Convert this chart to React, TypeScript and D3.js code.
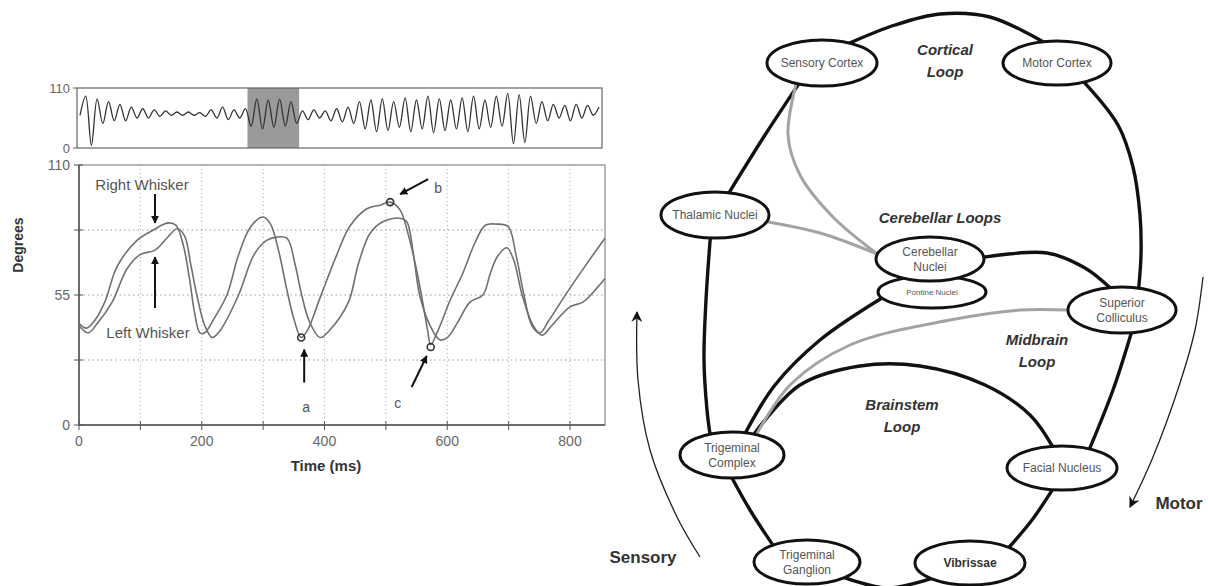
import React from 'react';
import * as d3 from 'd3';

// whisker angle in degrees over time (ms)
const rightWhisker: [number, number][] = [
  [0, 43], [12, 41], [25, 44], [42, 52], [62, 67], [94, 78], [121, 82.5], [145, 85.5], [158, 84.5],
  [170, 76], [180, 62], [188, 48], [197, 39], [205, 39], [220, 45], [241, 55], [260, 72], [280, 84],
  [300, 88], [312, 85], [325, 74], [338, 58], [350, 45], [362, 37], [372, 40], [393, 54], [420, 72],
  [441, 84], [469, 91.5], [490, 93], [507, 94.3], [523, 91], [535, 82], [548, 68], [560, 52], [568, 40],
  [573, 34], [585, 40], [605, 53], [625, 64], [645, 77], [662, 84.5], [680, 85], [699, 84], [712, 72],
  [725, 55], [738, 42], [751, 39], [765, 44], [795, 56], [828, 68.5], [857, 79],
];
const leftWhisker: [number, number][] = [
  [0, 42], [15, 39], [30, 43], [54, 52], [78, 66], [99, 72], [124, 74], [143, 79], [160, 83],
  [172, 80], [182, 68], [192, 55], [205, 42], [217, 37], [230, 40], [260, 55], [285, 72], [305, 78],
  [322, 79.5], [339, 79], [352, 68], [362, 56], [375, 44], [393, 37], [408, 40], [439, 52], [455, 68],
  [474, 81], [495, 86], [523, 87.5], [534, 86], [545, 72], [555, 55], [572, 42], [588, 36], [600, 37],
  [616, 43], [637, 52], [658, 55], [670, 64], [681, 71], [697, 75], [708, 70], [722, 55], [740, 42],
  [755, 38], [770, 42], [800, 50], [821, 52], [844, 58], [857, 62],
];

// overview trace: successive turning points of the whole recording
const overviewTrace = [
  60, 95, 5, 90,
  45, 85, 50, 80, 50, 75, 55, 72, 55, 70,
  58, 68, 60, 66, 60, 66, 60, 65,
  58, 70, 55, 75, 52, 70, 55, 72,
  40, 90, 35, 88, 38, 90, 40, 85, 45,
  68, 52, 70, 55, 68, 50, 72, 48, 75, 45,
  85, 35, 88, 30, 90, 32, 85, 38, 92, 30, 88, 35, 95, 28, 90, 32, 88, 35, 92, 30, 95, 35, 88, 38, 95, 40,
  100, 8, 98, 10, 95,
  45, 85, 50, 80, 55, 78, 50, 80, 55, 78, 60, 75,
];
const overviewStep = 95; // ms between turning points
const highlightWindow = [2790, 3650];

const timeTicks = [0, 200, 400, 600, 800];
const timeMinor = [100, 300, 500, 700];
const degreeTicks = [0, 55, 110];
const degreeMinor = [27.5, 82.5];

const markers = [
  { label: 'a', t: 362, v: 37 },
  { label: 'b', t: 507, v: 94.3 },
  { label: 'c', t: 573, v: 33 },
];

// circuit diagram (panel-local units)
const nodes = [
  { id: 'sc', lines: ['Sensory Cortex'], x: 222, y: 63, rx: 55, ry: 23 },
  { id: 'mc', lines: ['Motor Cortex'], x: 457, y: 63, rx: 54, ry: 22 },
  { id: 'th', lines: ['Thalamic Nuclei'], x: 115, y: 215, rx: 54, ry: 23 },
  { id: 'pn', lines: ['Pontine Nuclei'], x: 332, y: 292, rx: 54, ry: 16 },
  { id: 'cn', lines: ['Cerebellar', 'Nuclei'], x: 330, y: 259, rx: 54, ry: 22 },
  { id: 'sup', lines: ['Superior', 'Colliculus'], x: 522, y: 310, rx: 54, ry: 23 },
  { id: 'tc', lines: ['Trigeminal', 'Complex'], x: 132, y: 455, rx: 52, ry: 23 },
  { id: 'fn', lines: ['Facial Nucleus'], x: 462, y: 468, rx: 55, ry: 22 },
  { id: 'tg', lines: ['Trigeminal', 'Ganglion'], x: 207, y: 562, rx: 53, ry: 22 },
  { id: 'vb', lines: ['Vibrissae'], x: 370, y: 563, rx: 55, ry: 22 },
];

const edges = [
  { from: ['sc', -60], to: ['mc', -105], via: [[295, 25], [340, 14], [390, 17]], grey: false },
  { from: ['mc', 60], to: ['sup', -72], via: [[518, 125], [533, 167], [540, 215], [541, 255]], grey: false },
  { from: ['sc', 115], to: ['th', -75], via: [[165, 135]], grey: false },
  { from: ['th', 95], to: ['tc', -115], via: [[106, 300], [104, 360], [107, 410]], grey: false },
  { from: ['tc', 90], to: ['tg', -130], via: [[150, 510]], grey: false },
  { from: ['tg', 45], to: ['vb', 135], via: [[287, 588]], grey: false },
  { from: ['vb', -45], to: ['fn', 100], via: [[432, 520]], grey: false },
  { from: ['fn', -60], to: ['sup', 80], via: [[513, 390]], grey: false },
  { from: ['cn', -5], to: ['sup', -103], via: [[447, 253], [485, 268]], grey: false },
  { from: ['pn', 158], to: ['tc', -75], via: [[220, 340], [175, 385]], grey: false },
  { from: ['tc', -65], to: ['fn', -100], via: [[200, 385], [260, 366], [320, 366], [385, 385], [430, 415]], grey: false },
  { from: ['sc', 118], to: ['cn', -167], via: [[188, 135], [200, 175], [233, 217]], grey: true },
  { from: ['th', 17], to: ['cn', -167], via: [[220, 233]], grey: true },
  { from: ['tc', -62], to: ['sup', 180], via: [[190, 385], [250, 345], [350, 320], [420, 310]], grey: true },
];

const loopLabels = [
  { lines: ['Cortical', 'Loop'], x: 345, y: 50 },
  { lines: ['Cerebellar Loops'], x: 340, y: 218 },
  { lines: ['Midbrain', 'Loop'], x: 437, y: 340 },
  { lines: ['Brainstem', 'Loop'], x: 302, y: 405 },
];

const flowArrows = [
  { label: 'Sensory', pts: [[100, 557], [77, 517], [50, 450], [38, 380], [37, 312]], lx: 43, ly: 557 },
  { label: 'Motor', pts: [[603, 277], [595, 330], [580, 383], [553, 457], [530, 507]], lx: 579, ly: 503 },
];

const W = 1208;
const H = 586;

const App = () => {
  const x = d3.scaleLinear().domain([0, 857]).range([79, 605]);
  const y = d3.scaleLinear().domain([0, 110]).range([425, 165]);
  const whiskerLine = d3
    .line<[number, number]>()
    .x(d => x(d[0]))
    .y(d => y(d[1]))
    .curve(d3.curveCatmullRom.alpha(0.5));

  const ox = d3.scaleLinear().domain([0, (overviewTrace.length - 1) * overviewStep]).range([80, 599]);
  const oy = d3.scaleLinear().domain([0, 110]).range([148, 88]);
  const overviewLine = d3
    .line<number>()
    .x((_, i) => ox(i * overviewStep))
    .y(d => oy(d))
    .curve(d3.curveCatmullRom.alpha(0.5));

  // diagram panel
  const dx = d3.scaleLinear().domain([0, 608]).range([600, 1208]);
  const dy = d3.scaleLinear().domain([0, 586]).range([0, 586]);
  const byId = new Map(nodes.map(n => [n.id, n]));
  const onEllipse = (id: string, deg: number): [number, number] => {
    const n = byId.get(id)!;
    const a = (deg * Math.PI) / 180;
    return [n.x + n.rx * Math.cos(a), n.y + n.ry * Math.sin(a)];
  };
  const edgeLine = d3
    .line<number[]>()
    .x(d => dx(d[0]))
    .y(d => dy(d[1]))
    .curve(d3.curveCatmullRom.alpha(0.5));

  const sans = 'Liberation Sans, Arial, sans-serif';
  const ann = { a: [3, 45, 3, 12, 5, 70], b: [38, -23, 10, -8, 48, -14], c: [-19, 40, -4, 9, -33, 56] } as Record<string, number[]>;

  return (
    <svg width={W} height={H} style={{ position: 'absolute', left: 0, top: 0, background: '#fff' }} fontFamily={sans}>
      <defs>
        <marker id="head" viewBox="0 0 10 10" refX="9" refY="5" markerWidth="8" markerHeight="9"
          markerUnits="userSpaceOnUse" orient="auto">
          <path d="M0,0 L10,5 L0,10 z" fill="#111" />
        </marker>
        <marker id="barb" viewBox="0 0 10 10" refX="9" refY="5" markerWidth="12" markerHeight="11"
          markerUnits="userSpaceOnUse" orient="auto">
          <path d="M0,0 L10,5 L0,10 L3,5 z" fill="#111" />
        </marker>
      </defs>

      {/* overview strip */}
      <rect x={ox(highlightWindow[0])} y={88} width={ox(highlightWindow[1]) - ox(highlightWindow[0])} height={60} fill="#9a9a9a" />
      <rect x={77} y={88} width={525} height={60} fill="none" stroke="#666" strokeWidth={1.2} />
      <path d={overviewLine(overviewTrace) || ''} fill="none" stroke="#333" strokeWidth={1.3} />
      {[0, 110].map(v => (
        <g key={v}>
          <line x1={73} x2={77} y1={oy(v)} y2={oy(v)} stroke="#666" />
          <text x={70} y={oy(v)} dy="0.35em" textAnchor="end" fontSize={13} fill="#666">{v}</text>
        </g>
      ))}

      {/* main panel grid */}
      {timeMinor.concat(timeTicks.slice(1)).map(t => (
        <line key={'gx' + t} x1={x(t)} x2={x(t)} y1={165} y2={425} stroke="#aaa" strokeDasharray="1,3" />
      ))}
      {degreeMinor.concat([55]).map(v => (
        <line key={'gy' + v} x1={79} x2={605} y1={y(v)} y2={y(v)} stroke="#999" strokeDasharray="1.5,3" />
      ))}
      <rect x={79} y={165} width={526} height={260} fill="none" stroke="#888" strokeWidth={1.2} />
      <line x1={79} x2={79} y1={165} y2={425} stroke="#555" strokeWidth={1.5} />
      <line x1={79} x2={605} y1={425} y2={425} stroke="#555" strokeWidth={1.5} />
      {timeTicks.concat(timeMinor).map(t => (
        <line key={'tx' + t} x1={x(t)} x2={x(t)} y1={421} y2={430} stroke="#555" />
      ))}
      {timeTicks.map(t => (
        <text key={'lx' + t} x={x(t)} y={441} dy="0.35em" textAnchor="middle" fontSize={14} fill="#666">{t}</text>
      ))}
      {degreeTicks.concat(degreeMinor).map(v => (
        <line key={'ty' + v} x1={74} x2={83} y1={y(v)} y2={y(v)} stroke="#555" />
      ))}
      {degreeTicks.map(v => (
        <text key={'ly' + v} x={70} y={y(v)} dy="0.35em" textAnchor="end" fontSize={14} fill="#666">{v}</text>
      ))}
      <text x={326} y={466} dy="0.35em" textAnchor="middle" fontSize={15} fontWeight="bold" fill="#333">Time (ms)</text>
      <text transform="translate(18,245) rotate(-90)" dy="0.35em" textAnchor="middle" fontSize={14} fontWeight="bold" fill="#333">Degrees</text>

      <path d={whiskerLine(rightWhisker) || ''} fill="none" stroke="#707070" strokeWidth={1.6} />
      <path d={whiskerLine(leftWhisker) || ''} fill="none" stroke="#707070" strokeWidth={1.6} />

      <text x={142} y={185} dy="0.35em" textAnchor="middle" fontSize={15} fill="#555">Right Whisker</text>
      <line x1={155} x2={155} y1={194} y2={223} stroke="#111" strokeWidth={2} markerEnd="url(#head)" />
      <text x={148} y={333} dy="0.35em" textAnchor="middle" fontSize={15} fill="#555">Left Whisker</text>
      <line x1={155} x2={155} y1={308} y2={257} stroke="#111" strokeWidth={2} markerEnd="url(#head)" />

      {markers.map(m => {
        const px = x(m.t);
        const py = y(m.v);
        const o = ann[m.label];
        return (
          <g key={m.label}>
            <circle cx={px} cy={py} r={3.5} fill="none" stroke="#333" strokeWidth={1.6} />
            <line x1={px + o[0]} y1={py + o[1]} x2={px + o[2]} y2={py + o[3]} stroke="#111" strokeWidth={2} markerEnd="url(#head)" />
            <text x={px + o[4]} y={py + o[5]} dy="0.35em" textAnchor="middle" fontSize={14} fill="#555">{m.label}</text>
          </g>
        );
      })}

      {/* circuit diagram */}
      {edges.map((e, i) => {
        const pts = [onEllipse(e.from[0] as string, e.from[1] as number), ...e.via, onEllipse(e.to[0] as string, e.to[1] as number)];
        return (
          <path key={'e' + i} d={edgeLine(pts) || ''} fill="none" stroke={e.grey ? '#a3a3a3' : '#111'}
            strokeWidth={e.grey ? 3 : 3.4} strokeLinecap="round" />
        );
      })}
      {nodes.map(n => (
        <g key={n.id}>
          <ellipse cx={dx(n.x)} cy={dy(n.y)} rx={n.rx} ry={n.ry} fill="#fff" stroke="#111" strokeWidth={3} />
          {n.lines.map((l, k) => (
            <text key={k} x={dx(n.x)} y={dy(n.y) + (k - (n.lines.length - 1) / 2) * 15} dy="0.35em" textAnchor="middle"
              fontSize={n.id === 'pn' ? 8 : 12} fontWeight={n.id === 'vb' ? 'bold' : 'normal'}
              fill={n.id === 'vb' ? '#333' : '#555'}>{l}</text>
          ))}
        </g>
      ))}
      {loopLabels.map((g, i) => (
        <g key={'ll' + i}>
          {g.lines.map((l, k) => (
            <text key={k} x={dx(g.x)} y={dy(g.y) + k * 22} dy="0.35em" textAnchor="middle" fontSize={15}
              fontWeight="bold" fontStyle="italic" fill="#333">{l}</text>
          ))}
        </g>
      ))}
      {flowArrows.map(f => (
        <g key={f.label}>
          <path d={edgeLine(f.pts) || ''} fill="none" stroke="#222" strokeWidth={1.3} markerEnd="url(#barb)" />
          <text x={dx(f.lx)} y={dy(f.ly)} dy="0.35em" textAnchor="middle" fontSize={17} fontWeight="bold" fill="#333">{f.label}</text>
        </g>
      ))}
    </svg>
  );
};

export default App;
